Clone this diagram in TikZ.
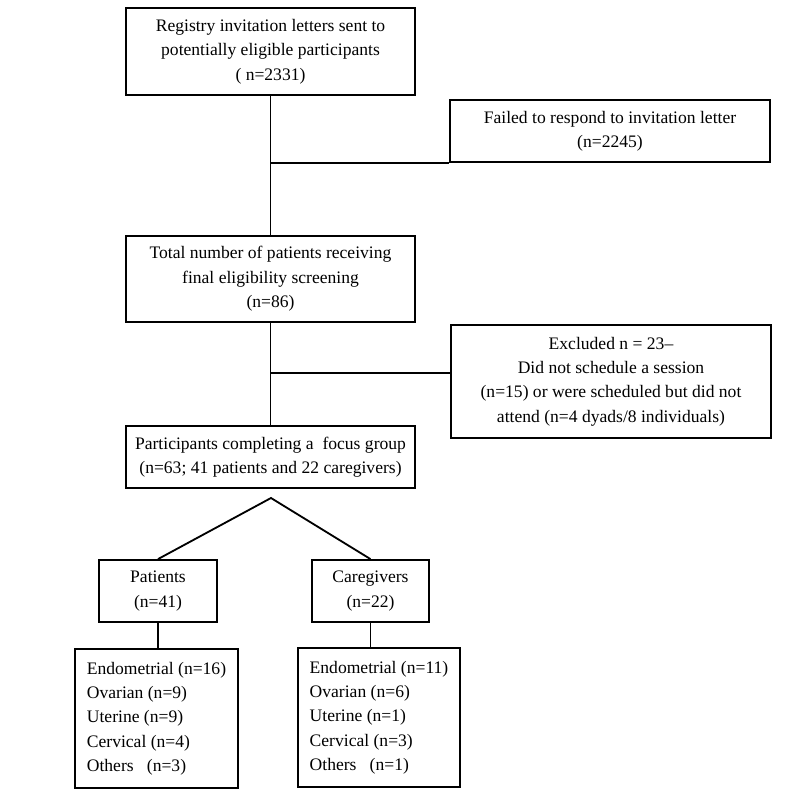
\documentclass[tikz,border=0pt]{standalone}
\usepackage{fontspec}
\setmainfont{Liberation Serif}
\usetikzlibrary{positioning}

\begin{document}
\begin{tikzpicture}[
    box/.style={rectangle, draw, line width=1.3pt, align=center, inner sep=1pt,
      font=\fontsize{12.5}{17.3}\selectfont},
    listbox/.style={box, align=left},
    link/.style={line width=1.3pt}]

    \useasboundingbox (0,0) rectangle (20,-20);

    % main column
    \node[box, minimum width=7.225cm, minimum height=2.175cm] (invite) at (6.7625,-1.2875)
      {Registry invitation letters sent to\\potentially eligible participants\\( n=2331)};
    \node[box, minimum width=8cm, minimum height=1.55cm] (noreply) at (15.25,-3.275)
      {Failed to respond to invitation letter\\(n=2245)};
    \node[box, minimum width=7.225cm, minimum height=2.15cm] (screen) at (6.7625,-6.975)
      {Total number of patients receiving\\final eligibility screening\\(n=86)};
    \node[box, minimum width=8cm, minimum height=2.825cm] (excluded) at (15.275,-9.5375)
      {Excluded n = 23--\\Did not schedule a session\\(n=15) or were scheduled but did not\\attend (n=4 dyads/8 individuals)};
    \node[box, minimum width=7.225cm, minimum height=1.55cm] (focus) at (6.7625,-11.425)
      {Participants completing a~ focus group\\(n=63; 41 patients and 22 caregivers)};

    % split into groups
    \coordinate (split) at (6.775,-12.45);
    \node[box, minimum width=2.95cm, minimum height=1.55cm] (patients) at (3.95,-14.775)
      {Patients\\(n=41)};
    \node[box, minimum width=2.925cm, minimum height=1.55cm] (carers) at (9.2625,-14.775)
      {Caregivers\\(n=22)};
    \node[listbox, minimum width=4.075cm, minimum height=3.475cm] (ptypes) at (3.9125,-17.9625)
      {Endometrial (n=16)\\Ovarian (n=9)\\Uterine (n=9)\\Cervical (n=4)\\Others~~~(n=3)};
    \node[listbox, minimum width=4.05cm, minimum height=3.475cm] (ctypes) at (9.475,-17.9375)
      {Endometrial (n=11)\\Ovarian (n=6)\\Uterine (n=1)\\Cervical (n=3)\\Others~~~(n=1)};

    \coordinate (exc) at (excluded.west |- 0,-9.325);

    \draw[link] (invite.south) -- (screen.north);
    \draw[link] (invite.south |- noreply.south west) -- (noreply.south west);
    \draw[link] (screen.south) -- (focus.north);
    \draw[link] (screen.south |- exc) -- (exc);
    \draw[link] (patients.north) -- (split) -- (carers.north);
    \draw[link] (patients.south) -- (patients.south |- ptypes.north);
    \draw[link] (carers.south) -- (carers.south |- ctypes.north);
\end{tikzpicture}
\end{document}
